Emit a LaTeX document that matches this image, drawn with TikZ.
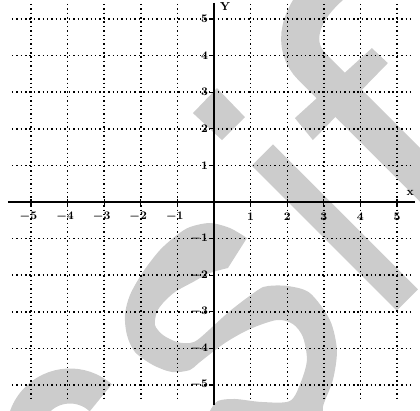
\documentclass[tikz,border=0pt]{standalone}
\usetikzlibrary{positioning}
\definecolor{markGray}{HTML}{CCCCCC}
\tikzset{
  gridLine/.style={black, line width=1.1pt, dash pattern=on 1.1pt off 2.3pt},
  axisLine/.style={black, line width=1.5pt},
  tickMark/.style={black, line width=0.9pt},
  tickLab/.style={font=\small\bfseries\boldmath, inner sep=0.5pt},
  wmark/.style={fill=markGray, draw=none},
  wstroke/.style={draw=markGray, line cap=butt},
}

\begin{document}
\begin{tikzpicture}
  \useasboundingbox (-5.847,-5.710) rectangle (5.628,5.519);

  % grey letters behind the grid (scan pixel units)
  \begin{scope}
    \clip (-5.847,-5.710) rectangle (5.628,5.519);
    \begin{scope}[shift={(-5.847cm,-5.710cm)}, x=0.02732cm, y=0.02732cm]
      \fill[wmark] plot[smooth, tension=0.5] coordinates {(247,173) (230,183) (210,188) (190,184)
          (177,176) (160,161) (143,139) (130,116) (125,96) (127,76) (135,59) (153,46) (172,39)
          (190,41) (200,49) (225,68) (250,82) (277,91) (293,87) (303,74) (307,51) (301,29)
          (290,10) (262,9) (235,12) (218,10) (210,0) (205,-14)}
        -- (205,-40) -- (345,-40)
        -- plot[smooth, tension=0.5] coordinates {(326,-10) (323,4) (333,31) (337,61) (330,91)
          (310,118) (288,125) (268,125) (258,121) (230,100) (200,73) (190,68) (177,69)
          (163,76) (155,86) (157,99) (163,108) (175,119) (193,129) (210,138) (228,143)}
        -- cycle;
      \fill[wmark] (193,298) -- (217,323) -- (245,294) -- (222,271) -- cycle;
      \draw[wstroke, line width=0.82cm] (262.5,256) -- (407.5,111);
      \draw[wstroke, line width=1.04cm] (440,216.5) -- (312,344.5)
        .. controls (292,364.5) and (296,398) .. (336,430);
      \fill[wmark] (295,293) -- (313,271) -- (388,348) -- (372,363) -- cycle;
      \draw[wstroke, line width=0.956cm] (70,-21) ++(48:46) arc[start angle=48, end angle=200, radius=46];
    \end{scope}
  \end{scope}

  % dotted grid
  \foreach \i in {-5,-4,-3,-2,-1,1,2,3,4,5} {
    \draw[gridLine] (-5.52,\i) -- (5.36,\i);
    \draw[gridLine] (\i,5.41) -- (\i,-5.46);
  }

  % axes
  \coordinate (xL) at (-5.63,0);
  \coordinate (xR) at (5.49,0);
  \coordinate (yT) at (0,5.44);
  \coordinate (yB) at (0,-5.55);
  \draw[axisLine] (xL) -- (xR);
  \draw[axisLine] (yT) -- (yB);

  \foreach \i in {-5,-4,-3,-2,-1,1,2,3,4,5} {
    \draw[tickMark] (\i,-0.08) -- (\i,0.08);
    \draw[tickMark] (-0.12,\i) -- (0,\i);
  }
  \foreach \i in {1,...,5} {
    \node[tickLab] (xlab\i) at (\i,-0.40) {$\i$};
    \node[tickLab, anchor=east] (ylab\i) at (-0.14,\i) {$\i$};
  }
  \foreach \i in {1,...,5} {
    \node[tickLab] (xlabm\i) at (-\i-0.07,-0.40) {$-\i$};
    \node[tickLab, anchor=east] (ylabm\i) at (-0.14,-\i) {$-\i$};
  }
  \node[tickLab] (xname) at (5.36,0.25) {x};
  \node[tickLab] (yname) at (0.30,5.33) {Y};
\end{tikzpicture}
\end{document}
